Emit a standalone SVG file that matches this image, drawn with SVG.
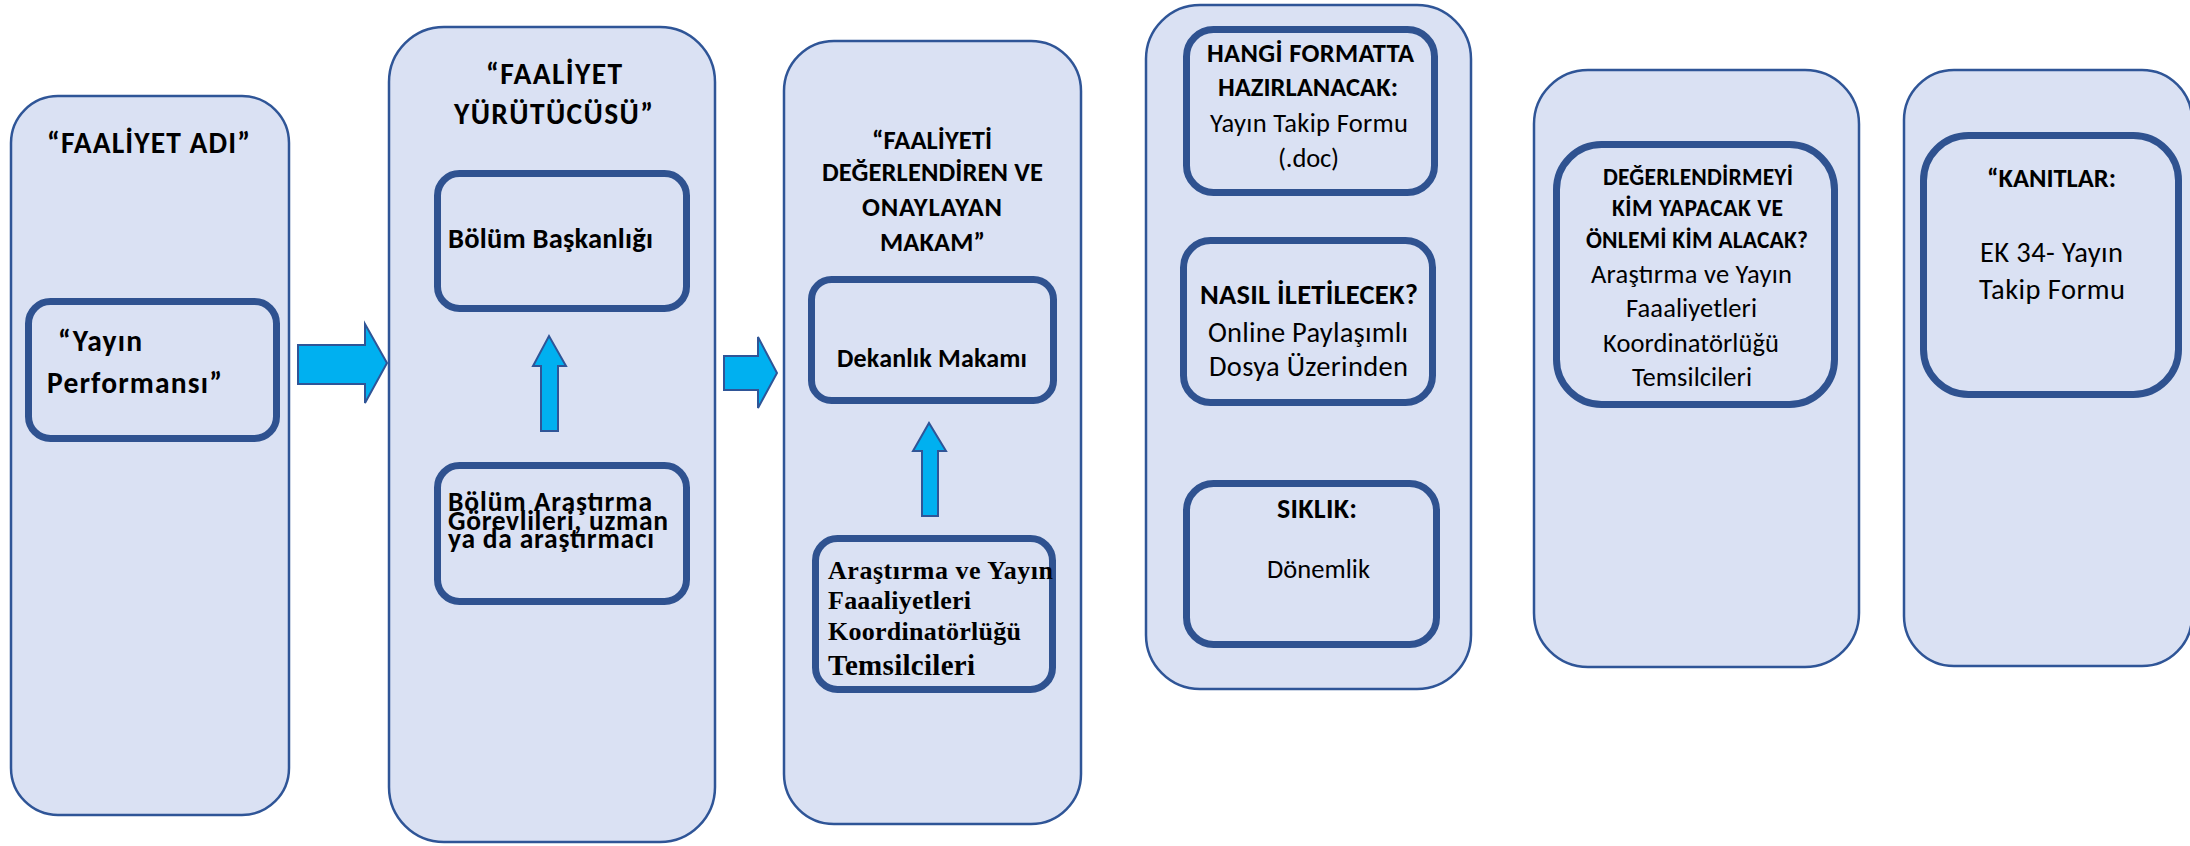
<svg xmlns="http://www.w3.org/2000/svg" width="2190" height="846" viewBox="0 0 2190 846">
<style>
.outer{fill:#DAE1F3;stroke:#2F5597;stroke-width:2.5}
.inner{fill:#DAE1F3;stroke:#2F5290;stroke-width:7}
.arrow{fill:#00B0F0;stroke:#2F5597;stroke-width:2;stroke-linejoin:miter}
text{fill:#000}
.b{font-family:Carlito,Lato,"Open Sans",sans-serif;font-weight:bold}
.r{font-family:Carlito,Lato,"Open Sans",sans-serif;font-weight:normal}
.s{font-family:"Liberation Serif","Times New Roman",serif;font-weight:bold}
</style>
<rect width="2190" height="846" fill="#FFFFFF"/>

<g id="node-faaliyet-adi">
<rect class="outer" x="11" y="96" width="278" height="719" rx="47" ry="47"/>
<text class="b" x="47" y="153" font-size="29.5" textLength="203">“FAALİYET ADI”</text>
<rect class="inner" x="28.5" y="301.5" width="248" height="137" rx="22" ry="22"/>
<text class="b" x="58" y="351" font-size="29.5" textLength="84">“Yayın</text>
<text class="b" x="47" y="393" font-size="29.5" textLength="175">Performansı”</text>
</g>

<g id="node-faaliyet-yurutucusu">
<rect class="outer" x="389" y="27" width="326" height="815" rx="55" ry="55"/>
<text class="b" x="486" y="84" font-size="29.5" textLength="136">“FAALİYET</text>
<text class="b" x="454" y="124" font-size="29.5" textLength="199">YÜRÜTÜCÜSÜ”</text>
<rect class="inner" x="437.5" y="173.5" width="249" height="135" rx="22" ry="22"/>
<text class="b" x="448" y="248" font-size="28.5" textLength="205">Bölüm Başkanlığı</text>
<rect class="inner" x="437.5" y="465.5" width="249" height="136" rx="22" ry="22"/>
<text class="b" x="448" y="511" font-size="27.5" textLength="204">Bölüm Araştırma</text>
<text class="b" x="448" y="530" font-size="27.5" textLength="220">Görevlileri, uzman</text>
<text class="b" x="448" y="548" font-size="27.5" textLength="206">ya da araştırmacı</text>
</g>

<g id="node-degerlendiren-makam">
<rect class="outer" x="784" y="41" width="297" height="783" rx="50" ry="50"/>
<text class="b" x="872" y="149" font-size="26.5" textLength="120">“FAALİYETİ</text>
<text class="b" x="822" y="181" font-size="26.5" textLength="221">DEĞERLENDİREN VE</text>
<text class="b" x="862" y="216" font-size="26.5" textLength="140">ONAYLAYAN</text>
<text class="b" x="880" y="251" font-size="26.5" textLength="105">MAKAM”</text>
<rect class="inner" x="811.5" y="279.5" width="242" height="121" rx="20" ry="20"/>
<text class="b" x="837" y="367" font-size="26" textLength="190">Dekanlık Makamı</text>
<rect class="inner" x="815.5" y="538.5" width="237" height="151" rx="22" ry="22"/>
<text class="s" x="828" y="579" font-size="26" textLength="225">Araştırma ve Yayın</text>
<text class="s" x="828" y="609" font-size="26" textLength="143">Faaaliyetleri</text>
<text class="s" x="828" y="640" font-size="26" textLength="193">Koordinatörlüğü</text>
<text class="s" x="828" y="675" font-size="29" textLength="147">Temsilcileri</text>
</g>

<g id="node-format-iletim-siklik">
<rect class="outer" x="1146" y="5" width="325" height="684" rx="54" ry="54"/>
<rect class="inner" x="1186.5" y="29.5" width="248" height="163" rx="27" ry="27"/>
<text class="b" x="1207" y="62" font-size="26.5" textLength="207">HANGİ FORMATTA</text>
<text class="b" x="1218" y="96" font-size="26.5" textLength="180">HAZIRLANACAK:</text>
<text class="r" x="1210" y="132" font-size="26.5" textLength="198">Yayın Takip Formu</text>
<text class="r" x="1278" y="167" font-size="26.5" textLength="61">(.doc)</text>
<rect class="inner" x="1183.5" y="240.5" width="249" height="162" rx="27" ry="27"/>
<text class="b" x="1200" y="304" font-size="28.5" textLength="218">NASIL İLETİLECEK?</text>
<text class="r" x="1208" y="342" font-size="28.5" textLength="200">Online Paylaşımlı</text>
<text class="r" x="1209" y="376" font-size="28.5" textLength="199">Dosya Üzerinden</text>
<rect class="inner" x="1186.5" y="483.5" width="250" height="161" rx="27" ry="27"/>
<text class="b" x="1277" y="518" font-size="28" textLength="80">SIKLIK:</text>
<text class="r" x="1267" y="578" font-size="26.5" textLength="103">Dönemlik</text>
</g>

<g id="node-degerlendirme-onlem">
<rect class="outer" x="1534" y="70" width="325" height="597" rx="54" ry="54"/>
<rect class="inner" x="1556.5" y="144.5" width="278" height="260" rx="45" ry="45"/>
<text class="b" x="1603" y="185" font-size="23.5" textLength="190">DEĞERLENDİRMEYİ</text>
<text class="b" x="1612" y="216" font-size="23.5" textLength="171">KİM YAPACAK VE</text>
<text class="b" x="1586" y="248" font-size="23.5" textLength="222">ÖNLEMİ KİM ALACAK?</text>
<text class="r" x="1591" y="283" font-size="26.5" textLength="201">Araştırma ve Yayın</text>
<text class="r" x="1626" y="317" font-size="26.5" textLength="131">Faaaliyetleri</text>
<text class="r" x="1603" y="352" font-size="26.5" textLength="176">Koordinatörlüğü</text>
<text class="r" x="1632" y="386" font-size="26.5" textLength="120">Temsilcileri</text>
</g>

<g id="node-kanitlar">
<rect class="outer" x="1904" y="70" width="288" height="596" rx="50" ry="50"/>
<rect class="inner" x="1923.5" y="135.5" width="255" height="259" rx="45" ry="45"/>
<text class="b" x="1987" y="187" font-size="26.5" textLength="129">“KANITLAR:</text>
<text class="r" x="1980" y="262" font-size="28.5" textLength="143">EK 34- Yayın</text>
<text class="r" x="1979" y="299" font-size="28.5" textLength="146">Takip Formu</text>
</g>

<g id="connectors">
<polygon class="arrow" points="298,345 365,345 365,324 387,363 365,403 365,384 298,384"/>
<polygon class="arrow" points="724,356 758,356 758,337 777,373 758,408 758,390 724,390"/>
<polygon class="arrow" points="541,431 541,366 533,366 549,336 566,366 558,366 558,431"/>
<polygon class="arrow" points="922,516 922,451 913,451 929,423 946,451 938,451 938,516"/>
</g>
</svg>
